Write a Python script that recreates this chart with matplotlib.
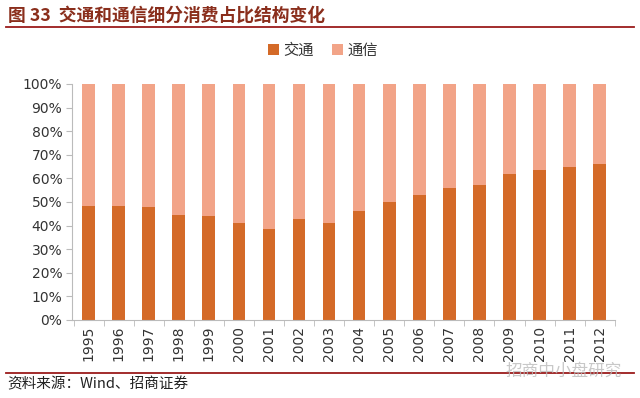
import matplotlib
matplotlib.use("Agg")
import matplotlib.pyplot as plt
import numpy as np
from matplotlib.ticker import FixedLocator, PercentFormatter

plt.rcParams['font.family'] = ['Noto Sans CJK SC', 'DejaVu Sans']

years = ["1995", "1996", "1997", "1998", "1999", "2000", "2001", "2002", "2003",
         "2004", "2005", "2006", "2007", "2008", "2009", "2010", "2011", "2012"]
transport = [48.4, 48.4, 47.7, 44.5, 44.2, 40.9, 38.4, 42.6, 41.2,
             46.2, 50.1, 53.0, 56.0, 57.0, 61.8, 63.5, 65.0, 66.3]
telecom = [100 - v for v in transport]
series_names = ["交通", "通信"]

c_dark = "#D46A28"
c_light = "#F2A488"
title_col = "#8A2E1C"
line_col = "#9B1B1B"

fig = plt.figure(figsize=(6.4, 3.98), dpi=100)
ax = fig.add_axes([0.1125, 0.196, 0.848, 0.593])

x = np.arange(len(years))
ax.bar(x, transport, width=0.42, color=c_dark, label=series_names[0], zorder=2)
ax.bar(x, telecom, width=0.42, bottom=transport, color=c_light, label=series_names[1], zorder=2)

ax.set_xlim(-0.55, 17.5)
ax.set_ylim(0, 100)
ax.yaxis.set_major_locator(FixedLocator(np.arange(0, 101, 10)))
ax.yaxis.set_major_formatter(PercentFormatter(decimals=0))
ax.set_xticks(x)
ax.set_xticklabels(years, rotation=90, fontsize=10, color="#333333", family="DejaVu Sans")
ax.tick_params(axis='x', length=0, pad=4)
ax.set_xticks(np.arange(-0.5, 17.6, 1), minor=True)
ax.tick_params(axis='x', which='minor', length=4, color="#BBBBBB", direction='out')
ax.tick_params(axis='y', length=4, color="#BBBBBB", labelsize=10, labelcolor="#333333", pad=3)
for lbl in ax.get_yticklabels():
    lbl.set_family("DejaVu Sans")

for s in ["top", "right"]:
    ax.spines[s].set_visible(False)
ax.spines["left"].set_color("#BBBBBB")
ax.spines["bottom"].set_color("#BBBBBB")

leg = fig.legend(loc="center", bbox_to_anchor=(0.505, 0.873), ncol=2, frameon=False,
                 fontsize=11, handlelength=0.7, handleheight=0.7, handletextpad=0.3,
                 columnspacing=1.2)
for t in leg.get_texts():
    t.set_color("#333333")

fig.text(0.012, 0.962, "图 33  交通和通信细分消费占比结构变化", fontsize=12.8, fontweight="bold",
         color=title_col, ha="left", va="center")
fig.add_artist(plt.Line2D([0.01, 0.99], [0.932, 0.932], color=line_col, lw=1.3))
fig.add_artist(plt.Line2D([0.01, 0.99], [0.064, 0.064], color=line_col, lw=1.3))
fig.text(0.012, 0.035, "资料来源：Wind、招商证券", fontsize=10.5, color="#222222",
         ha="left", va="center")
fig.text(0.972, 0.066, "招商中小盘研究", fontsize=12, color="#BBBBBB", ha="right", va="center", alpha=0.8)

fig.savefig("out.png", dpi=100)
